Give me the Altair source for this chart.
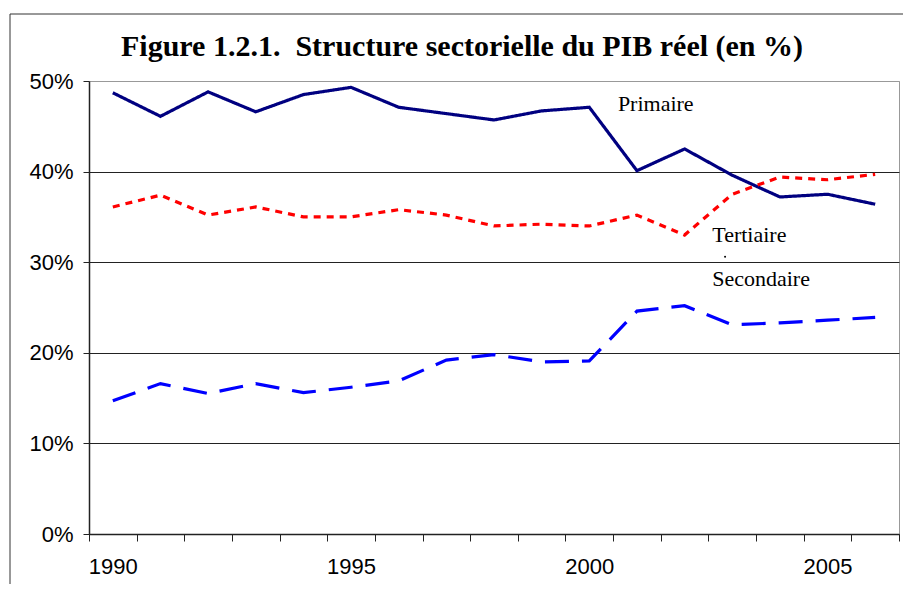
import altair as alt
import pandas as pd

years = list(range(1990, 2007))
primaire = [48.7, 46.1, 48.8, 46.6, 48.5, 49.3, 47.1, 46.4, 45.7, 46.7, 47.1, 40.1, 42.5, 39.6, 37.2, 37.5, 36.4]
tertiaire = [36.1, 37.4, 35.2, 36.1, 35.0, 35.0, 35.8, 35.2, 34.0, 34.2, 34.0, 35.2, 33.0, 37.5, 39.4, 39.1, 39.7]
secondaire = [14.7, 16.6, 15.5, 16.6, 15.6, 16.2, 16.9, 19.2, 19.8, 19.0, 19.1, 24.6, 25.2, 23.1, 23.3, 23.6, 23.9]
series_names = ["Primaire", "Tertiaire", "Secondaire"]
x_tick_labels = ["1990", "1995", "2000", "2005"]
y_ticks = [0, 10, 20, 30, 40, 50]
title_text = "Figure 1.2.1.\u00a0 Structure sectorielle du PIB réel (en %)"

rows = []
for name, vals in zip(series_names, [primaire, tertiaire, secondaire]):
    for y, v in zip(years, vals):
        rows.append({"year": y, "value": v, "series": name})
df = pd.DataFrame(rows)

W, H = 810, 453
xscale = alt.Scale(domain=[years[0] - 0.5, years[-1] + 0.5], nice=False, zero=False)
yscale = alt.Scale(domain=[0, 50], nice=False)
boundaries = [y - 0.5 for y in years] + [years[-1] + 0.5]
step = W / len(years)
label_expr = " : ".join(
    [f"datum.value == {int(l) - 0.5} ? '{l}'" for l in x_tick_labels]
) + " : ''"

axis_style = dict(labelFont="Liberation Sans", labelFontSize=22, labelColor="black",
                  domainColor="#222222", tickColor="#222222", domainWidth=1.5)

lines = alt.Chart(df).mark_line(strokeWidth=3.2).encode(
    x=alt.X("year:Q", scale=xscale, title=None,
            axis=alt.Axis(values=boundaries, labelExpr=label_expr, labelOffset=step / 2,
                          labelOverlap=False, grid=False, tickSize=7, labelPadding=15,
                          labelFlush=False, **axis_style)),
    y=alt.Y("value:Q", scale=yscale, title=None,
            axis=alt.Axis(values=y_ticks, labelExpr="datum.value + '%'", tickSize=6,
                          labelPadding=10, grid=True, labelOverlap=False,
                          gridColor={"condition": {"test": "datum.value == 50", "value": "#999999"},
                                     "value": "#222222"}, **axis_style)),
    color=alt.Color("series:N", scale=alt.Scale(domain=series_names,
                                                range=["#000080", "#FF0000", "#0000FF"]), legend=None),
    strokeDash=alt.StrokeDash("series:N", scale=alt.Scale(domain=series_names,
                                                          range=[[1, 0], [7, 6], [24, 13]]), legend=None),
    order="year:Q",
)

ann = pd.DataFrame({
    "label": ["Primaire", "Tertiaire", "Secondaire"],
    "x": [2000.6, 2002.58, 2002.58],
    "y": [46.7, 32.2, 27.4],
})
texts = alt.Chart(ann).mark_text(align="left", baseline="alphabetic", font="Liberation Serif",
                                 fontSize=22, color="black").encode(
    x=alt.X("x:Q", scale=xscale), y=alt.Y("y:Q", scale=yscale), text="label:N")

dot = alt.Chart(pd.DataFrame({"x": [2002.85], "y": [30.6]})).mark_circle(
    size=4, color="black", opacity=1).encode(
    x=alt.X("x:Q", scale=xscale), y=alt.Y("y:Q", scale=yscale))

title = alt.Chart(pd.DataFrame({"t": [title_text]})).mark_text(
    align="center", baseline="alphabetic", font="Liberation Serif", fontSize=30,
    fontWeight="bold", color="black").encode(
    x=alt.value(373), y=alt.value(-25), text="t:N")

frame_left = alt.Chart(pd.DataFrame({"a": [0]})).mark_rule(color="#333333", strokeWidth=1).encode(
    x=alt.value(-79), y=alt.value(-67), y2=alt.value(520))
frame_top = alt.Chart(pd.DataFrame({"a": [0]})).mark_rule(color="#333333", strokeWidth=1).encode(
    x=alt.value(-79), x2=alt.value(830), y=alt.value(-67))

chart = alt.layer(frame_left, frame_top, lines, texts, dot, title).properties(
    width=W, height=H,
    background="white",
    autosize=alt.AutoSizeParams(type="none"),
    padding={"left": 81, "top": 73, "right": 4, "bottom": 50},
).configure_view(stroke="#999999", strokeWidth=1)

chart.save("out.html", embed_options={"renderer": "svg", "actions": False})
